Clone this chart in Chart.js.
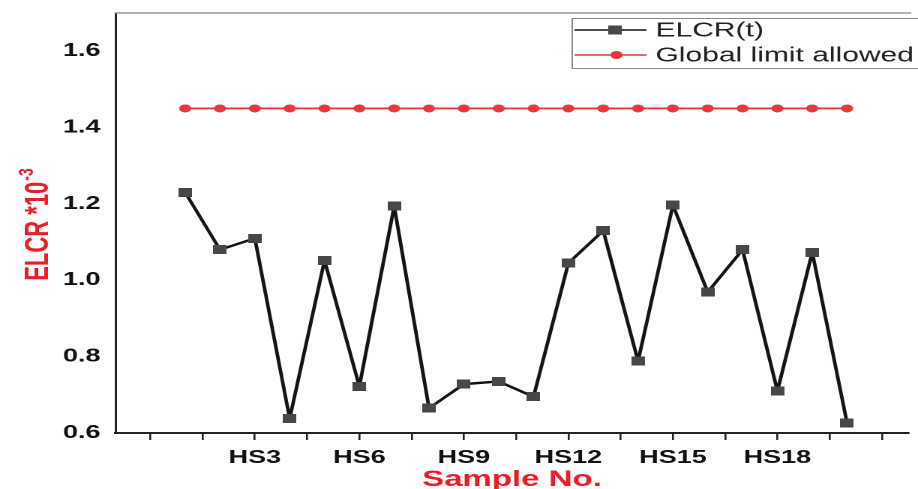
<!DOCTYPE html>
<html>
<head>
<meta charset="utf-8">
<script src="https://cdn.jsdelivr.net/npm/chart.js@4.4.1/dist/chart.umd.min.js"></script>
<style>
  html, body { margin: 0; padding: 0; background: #fff; overflow: hidden; }
  /* the original figure is stretched sideways, so the canvas is too */
  #wrap { width: 612px; height: 489px; transform: scaleX(1.5); transform-origin: 0 0; }
</style>
</head>
<body>
<div id="wrap"><canvas id="elcrChart" width="612" height="489" style="width:612px;height:489px"></canvas></div>
<script>
// Sample names (x axis)
const samples = ['HS1', 'HS2', 'HS3', 'HS4', 'HS5', 'HS6', 'HS7', 'HS8', 'HS9', 'HS10',
                 'HS11', 'HS12', 'HS13', 'HS14', 'HS15', 'HS16', 'HS17', 'HS18', 'HS19', 'HS20'];

// ELCR(t) per sample, in units of 10^-3
const elcr = [1.23, 1.08, 1.11, 0.638, 1.052, 0.722, 1.194, 0.665, 0.728, 0.735,
              0.695, 1.045, 1.13, 0.788, 1.197, 0.969, 1.08, 0.71, 1.073, 0.626];

// Global limit allowed, in units of 10^-3
const globalLimit = [1.45, 1.45, 1.45, 1.45, 1.45, 1.45, 1.45, 1.45, 1.45, 1.45,
                     1.45, 1.45, 1.45, 1.45, 1.45, 1.45, 1.45, 1.45, 1.45, 1.45];

// y axis tick values
const yTicks = [0.6, 0.8, 1.0, 1.2, 1.4, 1.6];

const RED = '#e8373d';
const TITLE_RED = '#ee1c25';
const FONT = '"Liberation Sans", Arial, sans-serif';

// small square marker used for the ELCR series
function squareMarker(size, color) {
    const c = document.createElement('canvas');
    c.width = size;
    c.height = size;
    const g = c.getContext('2d');
    g.fillStyle = color;
    g.fillRect(0, 0, size, size);
    return c;
}
const sq = squareMarker(9, '#474747');

// y title with a real superscript
const yTitle = {
    id: 'yTitle',
    afterDraw(chart) {
        const ctx = chart.ctx;
        const area = chart.chartArea;
        const main = 'ELCR *10';
        const sup = '-3';
        ctx.save();
        ctx.fillStyle = TITLE_RED;
        ctx.textBaseline = 'middle';
        ctx.font = 'bold 22px ' + FONT;
        const w1 = ctx.measureText(main).width;
        ctx.font = 'bold 14px ' + FONT;
        const w2 = ctx.measureText(sup).width;
        ctx.translate(26, (area.top + area.bottom) / 2 + 2);
        ctx.rotate(-Math.PI / 2);
        const x0 = -(w1 + w2) / 2;
        ctx.font = 'bold 22px ' + FONT;
        ctx.fillText(main, x0, 0);
        ctx.font = 'bold 14px ' + FONT;
        ctx.fillText(sup, x0 + w1 + 1, -8);
        ctx.restore();
    }
};

// frame top line and the boxed legend
const frameAndLegend = {
    id: 'frameAndLegend',
    afterDraw(chart) {
        const ctx = chart.ctx;
        const area = chart.chartArea;
        ctx.save();
        ctx.strokeStyle = '#9a9a9a';
        ctx.lineWidth = 1.5;
        ctx.beginPath();
        ctx.moveTo(area.left, area.top);
        ctx.lineTo(area.right + 2, area.top);
        ctx.stroke();

        ctx.fillStyle = '#fff';
        ctx.fillRect(381, 18, 240, 50);
        ctx.strokeStyle = '#8a8a8a';
        ctx.lineWidth = 1;
        ctx.strokeRect(381.5, 18.5, 240, 50);

        chart.data.datasets.forEach((ds, i) => {
            const y = 30 + i * 25;
            ctx.strokeStyle = ds.borderColor;
            ctx.lineWidth = 1.6;
            ctx.beginPath();
            ctx.moveTo(383, y);
            ctx.lineTo(431, y);
            ctx.stroke();
            if (i === 0) {
                ctx.drawImage(sq, 405.5, y - 4.5);
            } else {
                ctx.fillStyle = RED;
                ctx.beginPath();
                ctx.arc(411, y, 4, 0, Math.PI * 2);
                ctx.fill();
            }
            ctx.fillStyle = '#222';
            ctx.font = '20px ' + FONT;
            ctx.textBaseline = 'middle';
            ctx.fillText(ds.label, 437, y + 1);
        });
        ctx.restore();
    }
};

const ctx = document.getElementById('elcrChart').getContext('2d');

new Chart(ctx, {
    type: 'line',
    data: {
        datasets: [{
            label: 'ELCR(t)',
            data: samples.map((s, i) => ({ x: i + 1, y: elcr[i] })),
            borderColor: '#141414',
            borderWidth: 2.4,
            borderJoinStyle: 'round',
            pointStyle: sq,
            backgroundColor: '#474747',
            tension: 0
        }, {
            label: 'Global limit allowed',
            data: samples.map((s, i) => ({ x: i + 1, y: globalLimit[i] })),
            borderColor: RED,
            borderWidth: 1.8,
            pointStyle: 'circle',
            pointRadius: 4,
            pointBackgroundColor: RED,
            pointBorderWidth: 0,
            tension: 0
        }]
    },
    options: {
        responsive: false,
        devicePixelRatio: 2,
        animation: false,
        layout: { padding: { top: 13, right: 0, bottom: 0, left: 0 } },
        plugins: {
            legend: { display: false },
            tooltip: { enabled: false }
        },
        scales: {
            x: {
                type: 'linear',
                min: -1,
                max: 21.76,
                afterBuildTicks: function(scale) {
                    const t = [];
                    for (let v = 0; v <= 21; v += 1.5) t.push({ value: v });
                    scale.ticks = t;
                },
                afterFit: function(scale) {
                    scale.height = 56;
                    scale.paddingLeft = 0;
                    scale.paddingRight = 0;
                },
                ticks: {
                    autoSkip: false,
                    maxRotation: 0,
                    padding: 7,
                    color: '#111',
                    font: { family: FONT, size: 18, weight: 'bold' },
                    callback: function(v) {
                        if (Number.isInteger(v) && v % 3 === 0) return samples[v - 1] || '';
                        return '';
                    }
                },
                grid: {
                    drawOnChartArea: false,
                    drawTicks: true,
                    tickLength: 7,
                    color: '#222',
                    lineWidth: 1.3
                },
                border: { display: true, color: '#222', width: 2 },
                title: {
                    display: true,
                    text: 'Sample No.',
                    color: TITLE_RED,
                    font: { family: FONT, size: 22, weight: 'bold' },
                    padding: { top: 0, bottom: -4 }
                }
            },
            y: {
                min: 0.6,
                max: 1.70,
                afterBuildTicks: function(scale) {
                    scale.ticks = yTicks.map(v => ({ value: v }));
                },
                afterFit: function(scale) {
                    scale.width = 77;
                    scale.paddingTop = 0;
                    scale.paddingBottom = 0;
                },
                ticks: {
                    padding: 10,
                    color: '#111',
                    font: { family: FONT, size: 18, weight: 'bold' },
                    callback: v => v.toFixed(1)
                },
                grid: { display: false, drawTicks: false },
                border: { display: true, color: '#222', width: 1.5 }
            }
        }
    },
    plugins: [yTitle, frameAndLegend]
});
</script>
</body>
</html>
